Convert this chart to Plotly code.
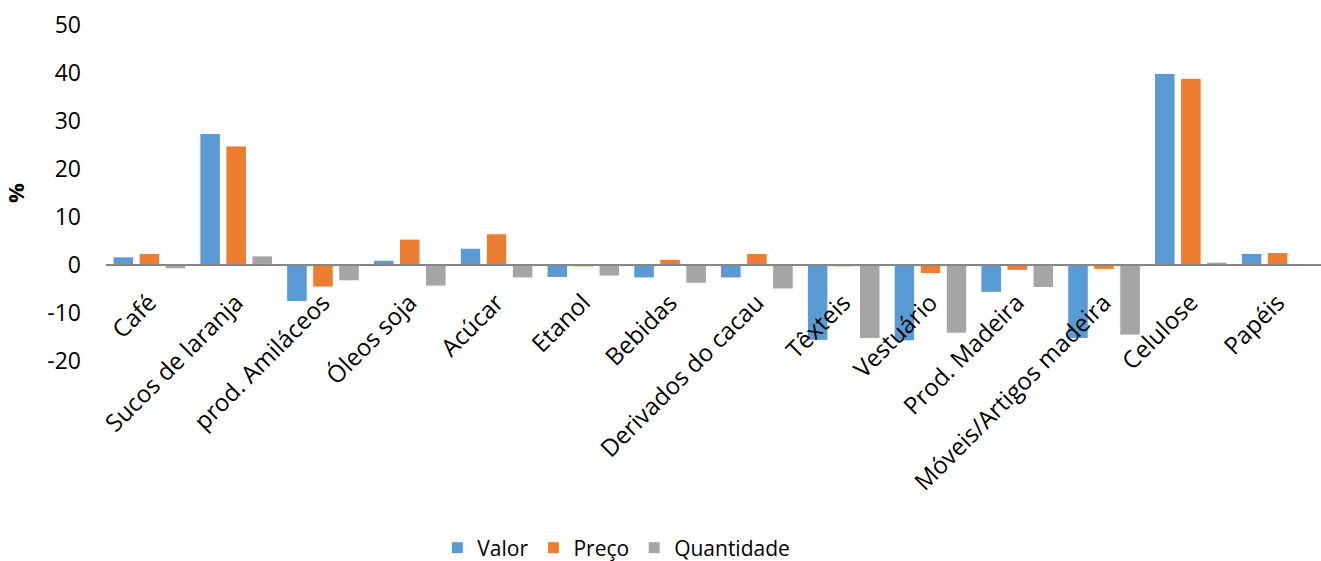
import plotly.graph_objects as go

categories = ["Café", "Sucos de laranja", "prod. Amiláceos", "Óleos soja", "Acúcar",
              "Etanol", "Bebidas", "Derivados do cacau", "Têxteis", "Vestuário",
              "Prod. Madeira", "Móveis/Artigos madeira", "Celulose", "Papéis"]
valor = [1.7, 27.4, -7.6, 1.0, 3.5, -2.6, -2.7, -2.7, -15.7, -15.8, -5.7, -15.3, 39.9, 2.4]
preco = [2.4, 24.8, -4.6, 5.4, 6.5, -0.4, 1.2, 2.4, -0.4, -1.8, -1.1, -0.9, 38.9, 2.6]
quantidade = [-0.8, 1.9, -3.3, -4.4, -2.7, -2.3, -3.8, -5.0, -15.3, -14.2, -4.7, -14.6, 0.6, 0.0]
y_ticks = [-20, -10, 0, 10, 20, 30, 40, 50]
y_ticktext = ["-20", "-10", "0", "10", "20", "30", "40", "50"]

font_family = "Open Sans, Liberation Sans, sans-serif"

fig = go.Figure()
for name, vals, color in [("Valor", valor, "#5B9BD5"),
                          ("Preço", preco, "#ED7D31"),
                          ("Quantidade", quantidade, "#A5A5A5")]:
    fig.add_trace(go.Bar(x=categories, y=vals, name=name,
                         marker=dict(color=color, line=dict(color="white", width=1))))

fig.update_layout(
    width=1321, height=561,
    margin=dict(l=106, r=0, t=25, b=200, autoexpand=False),
    paper_bgcolor="white", plot_bgcolor="white",
    barmode="group", bargap=0.10, bargroupgap=0.21,
    font=dict(family=font_family, size=20, color="black"),
    legend=dict(orientation="h", x=0.42, xanchor="center", yref="container",
                y=0.023, yanchor="middle",
                font=dict(size=21), itemwidth=30, tracegroupgap=0),
    xaxis=dict(anchor="free", position=20 / 70, showline=True, linecolor="#868686",
               linewidth=2, tickangle=-45, ticks="", showgrid=False,
               ticklabelstandoff=13, automargin=False,
               tickfont=dict(size=24)),
    yaxis=dict(range=[-20, 50], tickvals=y_ticks, ticktext=y_ticktext,
               showgrid=False, zeroline=False, automargin=False,
               showline=False, ticks="", tickfont=dict(size=23),
               ticklabelstandoff=24,
               title=dict(text="<b>%</b>", font=dict(size=22), standoff=44)),
)

fig.write_html("out.html")
